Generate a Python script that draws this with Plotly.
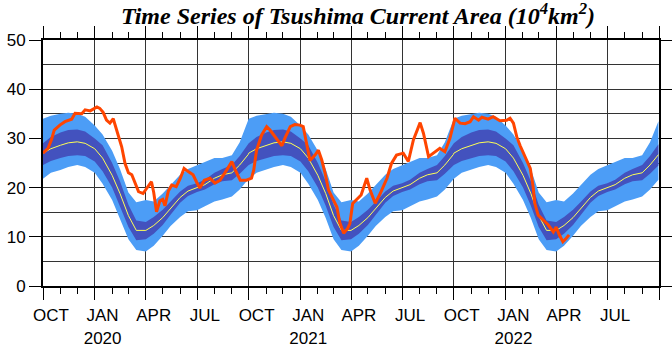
import plotly.graph_objects as go

# ---- climatology (one seasonal cycle, Oct 1 -> Sep 30) ----
clim_md = ["10-01", "10-15", "11-01", "11-15", "12-01", "12-15", "01-01", "01-15",
           "02-01", "02-15", "03-01", "03-15", "04-01", "04-15", "05-01", "05-15",
           "06-01", "06-15", "07-01", "07-15", "08-01", "08-15", "09-01", "09-15", "09-30"]
clim_mean = [27.0, 27.9, 28.6, 29.1, 29.3, 29.0, 27.9, 26.0, 22.5, 18.8, 14.3, 11.3, 11.3,
             12.3, 13.9, 15.8, 18.0, 19.3, 20.0, 20.6, 21.9, 22.6, 23.0, 24.6, 26.7]
clim_dark_lo = [24.6, 25.4, 26.0, 26.4, 26.6, 26.4, 25.3, 23.3, 20.0, 16.3, 12.0, 9.3, 9.5,
                10.6, 12.4, 14.5, 16.9, 18.3, 19.1, 19.6, 20.7, 21.3, 21.5, 22.8, 24.5]
clim_dark_hi = [29.0, 30.3, 31.2, 31.7, 31.8, 31.4, 30.0, 28.6, 25.0, 21.3, 16.5, 13.3, 13.0,
                14.0, 15.5, 17.1, 19.2, 20.4, 20.9, 21.6, 23.0, 23.8, 24.6, 26.4, 28.8]
clim_light_lo = [21.8, 23.0, 23.6, 24.2, 24.6, 24.2, 23.0, 20.8, 17.5, 13.8, 9.5, 7.3, 7.0,
                 8.2, 10.2, 12.2, 14.0, 15.2, 15.4, 16.2, 17.2, 17.6, 18.2, 19.6, 21.6]
clim_light_hi = [34.0, 34.6, 35.0, 35.2, 35.0, 34.4, 32.6, 30.8, 27.5, 23.8, 19.0, 17.0, 17.5,
                 17.2, 18.8, 20.6, 22.6, 23.8, 24.6, 25.3, 26.0, 26.0, 26.6, 29.2, 33.5]
season_starts = [2019, 2020, 2021]

# ---- observed area ----
obs_dates = ["2019-10-01", "2019-10-10", "2019-10-16", "2019-10-21", "2019-10-31", "2019-11-09",
             "2019-11-21", "2019-11-27", "2019-12-09", "2019-12-15", "2019-12-24", "2020-01-05",
             "2020-01-10", "2020-01-16", "2020-01-22", "2020-01-28", "2020-02-03", "2020-02-09",
             "2020-02-12", "2020-02-18", "2020-02-24", "2020-03-01", "2020-03-07", "2020-03-13",
             "2020-03-19", "2020-03-27", "2020-04-05", "2020-04-11", "2020-04-15", "2020-04-20",
             "2020-04-26", "2020-05-01", "2020-05-05", "2020-05-11", "2020-05-17", "2020-05-25",
             "2020-06-01", "2020-06-08", "2020-06-16", "2020-06-24", "2020-06-30", "2020-07-06",
             "2020-07-14", "2020-07-24", "2020-08-02", "2020-08-11", "2020-08-23", "2020-09-01",
             "2020-09-07", "2020-09-16", "2020-09-27", "2020-10-06", "2020-10-10", "2020-10-15",
             "2020-10-24", "2020-11-02", "2020-11-08", "2020-11-17", "2020-11-29", "2020-12-05",
             "2020-12-14", "2020-12-22", "2020-12-31", "2021-01-06", "2021-01-12", "2021-01-18",
             "2021-01-27", "2021-02-02", "2021-02-08", "2021-02-14", "2021-02-20", "2021-03-01",
             "2021-03-07", "2021-03-12", "2021-03-19", "2021-03-26", "2021-03-30", "2021-04-04",
             "2021-04-13", "2021-04-19", "2021-04-29", "2021-05-05", "2021-05-14", "2021-05-23",
             "2021-06-04", "2021-06-12", "2021-06-21", "2021-07-03", "2021-07-12", "2021-07-21",
             "2021-08-02", "2021-08-08", "2021-08-17", "2021-08-29", "2021-09-06", "2021-09-15",
             "2021-09-24", "2021-10-03", "2021-10-12", "2021-10-21", "2021-10-30", "2021-11-05",
             "2021-11-14", "2021-11-20", "2021-12-01", "2021-12-10", "2021-12-22", "2022-01-03",
             "2022-01-09", "2022-01-15", "2022-01-21", "2022-01-27", "2022-02-05", "2022-02-14",
             "2022-02-19", "2022-02-22", "2022-02-28", "2022-03-09", "2022-03-18", "2022-03-27",
             "2022-04-01", "2022-04-07", "2022-04-13", "2022-04-19", "2022-04-24"]
obs_vals = [27.0, 28.0, 29.7, 31.7, 32.7, 33.4, 33.9, 35.1, 35.0, 35.8, 35.6, 36.4,
            36.1, 35.3, 33.7, 33.1, 34.0, 31.7, 30.3, 28.3, 24.9, 23.0, 22.6, 20.9,
            19.2, 18.8, 20.2, 21.2, 19.0, 15.1, 17.3, 17.6, 16.3, 19.3, 20.5, 20.2,
            21.8, 23.9, 23.2, 22.6, 21.2, 19.9, 21.5, 21.9, 20.9, 21.5, 23.6, 25.3,
            23.6, 21.5, 21.5, 21.9, 23.6, 27.6, 30.7, 32.4, 31.7, 30.3, 28.5, 30.2,
            32.4, 32.8, 32.7, 32.4, 29.0, 25.5, 26.6, 27.6, 25.6, 22.9, 19.5, 17.5,
            16.0, 12.9, 10.7, 11.7, 12.7, 16.8, 17.8, 18.5, 21.9, 19.5, 16.8, 18.8,
            21.9, 24.9, 26.6, 27.0, 25.3, 29.7, 33.2, 31.0, 26.3, 27.4, 28.0, 27.3,
            30.0, 34.1, 33.1, 33.0, 33.4, 34.4, 33.7, 34.3, 33.9, 34.4, 33.6, 33.7,
            34.1, 33.1, 30.3, 28.5, 26.3, 23.9, 20.2, 16.8, 14.4, 13.4, 12.4, 11.0,
            12.0, 10.3, 9.0, 9.7, 10.4]

# ---- axis labels ----
x_range = ["2019-10-01", "2022-10-01"]
label_dates = ["2019-10-15", "2020-01-15", "2020-04-15", "2020-07-15", "2020-10-15", "2021-01-15",
               "2021-04-15", "2021-07-15", "2021-10-15", "2022-01-15", "2022-04-15", "2022-07-15"]
label_text = ["OCT", "JAN<br>2020", "APR", "JUL", "OCT", "JAN<br>2021",
              "APR", "JUL", "OCT", "JAN<br>2022", "APR", "JUL"]
y_ticks = [0, 10, 20, 30, 40, 50]

clim_dates = []
for y0 in season_starts:
    for md in clim_md:
        yr = y0 if md[:2] in ("10", "11", "12") else y0 + 1
        clim_dates.append(f"{yr}-{md}")
n = len(season_starts)
mean_all = clim_mean * n
dlo_all = clim_dark_lo * n
dhi_all = clim_dark_hi * n
llo_all = clim_light_lo * n
lhi_all = clim_light_hi * n

LIGHT = "#4C9DF6"
DARK = "#4352BE"

fig = go.Figure()
fig.add_trace(go.Scatter(x=clim_dates, y=llo_all, mode="lines", line=dict(width=0, color=LIGHT),
                         showlegend=False, hoverinfo="skip"))
fig.add_trace(go.Scatter(x=clim_dates, y=lhi_all, mode="lines", line=dict(width=0, color=LIGHT),
                         fill="tonexty", fillcolor=LIGHT, showlegend=False, hoverinfo="skip"))
fig.add_trace(go.Scatter(x=clim_dates, y=dlo_all, mode="lines", line=dict(width=0, color=DARK),
                         showlegend=False, hoverinfo="skip"))
fig.add_trace(go.Scatter(x=clim_dates, y=dhi_all, mode="lines", line=dict(width=0, color=DARK),
                         fill="tonexty", fillcolor=DARK, showlegend=False, hoverinfo="skip"))
fig.add_trace(go.Scatter(x=clim_dates, y=mean_all, mode="lines", line=dict(width=1, color="#FFFF55"),
                         showlegend=False))
fig.add_trace(go.Scatter(x=obs_dates, y=obs_vals, mode="lines", line=dict(width=3, color="#FF4500"),
                         showlegend=False))
# invisible trace to activate the label axis
fig.add_trace(go.Scatter(x=x_range, y=[None, None], xaxis="x2", showlegend=False, hoverinfo="skip"))

tickfont = dict(family="Liberation Sans, Arial, sans-serif", size=17, color="black")

fig.update_layout(
    width=672, height=346,
    margin=dict(l=43, r=13, t=40, b=60, autoexpand=False),
    paper_bgcolor="white", plot_bgcolor="white",
    showlegend=False,
    title=dict(text="<b><i>Time Series of Tsushima Current Area (10<sup>4</sup>km<sup>2</sup>)</i></b>",
               font=dict(family="Liberation Serif, Times New Roman, serif", size=24, color="black"),
               x=358 / 672, xanchor="center", xref="container",
               y=1 - 24 / 346, yanchor="bottom", yref="container"),
    xaxis=dict(type="date", range=x_range, tick0="2019-10-01", dtick="M3", automargin=False,
               showticklabels=False, ticks="outside", ticklen=12, tickwidth=1, tickcolor="black",
               showgrid=True, gridcolor="#333333", gridwidth=1,
               showline=True, linewidth=2, linecolor="black", mirror="ticks",
               minor=dict(dtick="M1", tick0="2019-10-01", ticks="outside", ticklen=6,
                          tickwidth=1, tickcolor="black", showgrid=False),
               zeroline=False),
    xaxis2=dict(type="date", range=x_range, overlaying="x", anchor="y", side="bottom",
                automargin=False,
                tickmode="array", tickvals=label_dates, ticktext=label_text,
                ticks="outside", ticklen=14, tickcolor="rgba(0,0,0,0)",
                showgrid=False, showline=False, zeroline=False, tickfont=tickfont),
    yaxis=dict(range=[0, 50], tickmode="array", tickvals=y_ticks, automargin=False,
               ticks="outside", ticklen=12, tickwidth=1, tickcolor="black",
               showgrid=True, gridcolor="#333333", gridwidth=1,
               minor=dict(dtick=5, showgrid=True, gridcolor="#333333", gridwidth=1, ticks=""),
               showline=True, linewidth=2, linecolor="black", mirror="ticks",
               zeroline=False, tickfont=tickfont),
)

fig.write_html("out.html")
